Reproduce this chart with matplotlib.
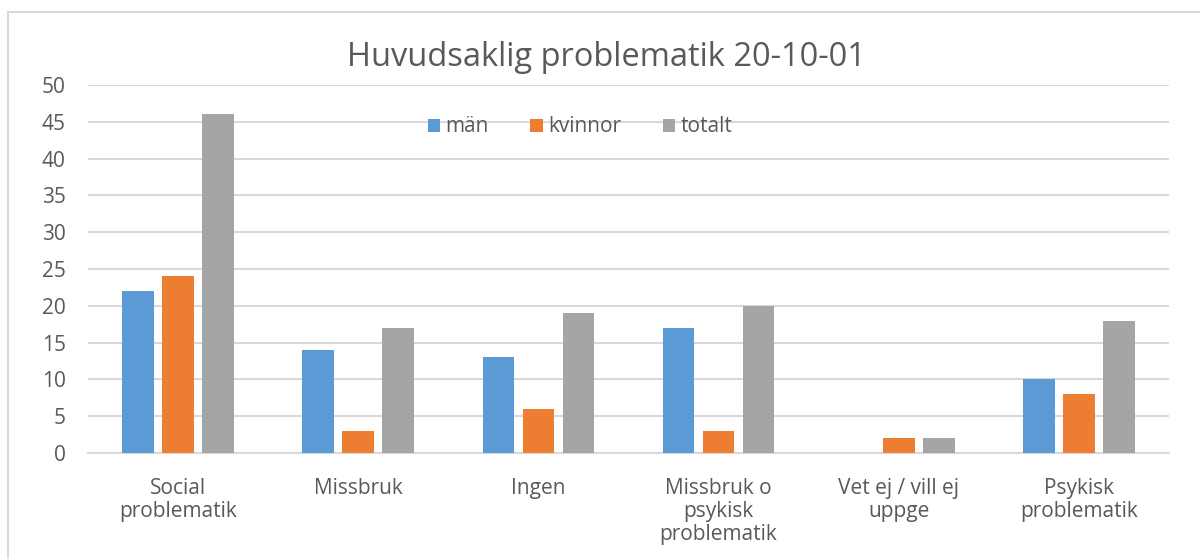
import numpy as np
import matplotlib.pyplot as plt
from matplotlib.patches import Rectangle

categories = ['Social\nproblematik', 'Missbruk', 'Ingen', 'Missbruk o\npsykisk\nproblematik',
              'Vet ej / vill ej\nuppge', 'Psykisk\nproblematik']
man = [22, 14, 13, 17, 0, 10]
kvinnor = [24, 3, 6, 3, 2, 8]
totalt = [46, 17, 19, 20, 2, 18]

series = [('män', man, '#5B9BD5'), ('kvinnor', kvinnor, '#ED7D31'), ('totalt', totalt, '#A5A5A5')]

plt.rcParams['font.family'] = ['Open Sans', 'DejaVu Sans']
text_color = '#595959'
grid_color = '#D9D9D9'

fig = plt.figure(figsize=(12, 5.59), dpi=100)
W, H = 1200, 559
# plot area in pixels: left 88, right 1169, top 85, bottom 453
ax = fig.add_axes([88 / W, 1 - 453 / H, (1169 - 88) / W, (453 - 85) / H])

# chart border (only left and top visible in the crop)
fig.patches.append(Rectangle((8 / W, -0.1), 1.2, 1 - 12 / H + 0.1, transform=fig.transFigure,
                             fill=False, edgecolor=grid_color, linewidth=1.5))

x = np.arange(len(categories))
width = 0.175
step = 0.222
for i, (name, vals, color) in enumerate(series):
    ax.bar(x + (i - 1) * step, vals, width, color=color, label=name, zorder=3)

ax.set_xlim(-0.5, len(categories) - 0.5)
ax.set_ylim(0, 50)
ax.set_yticks(np.arange(0, 51, 5))
ax.yaxis.grid(True, color=grid_color, linewidth=1.5, zorder=0)
for s in ['top', 'right', 'left']:
    ax.spines[s].set_visible(False)
ax.spines['bottom'].set_color(grid_color)
ax.spines['bottom'].set_linewidth(1.5)
ax.tick_params(axis='both', length=0, labelsize=15, colors=text_color)
ax.tick_params(axis='y', pad=16)
ax.tick_params(axis='x', pad=18)
ax.set_xticks(x)
ax.set_xticklabels(categories, linespacing=1.12)

fig.text(606 / W, 1 - 57 / H, 'Huvudsaklig problematik 20-10-01', ha='center', va='center',
         fontsize=23.5, color=text_color)

leg = fig.legend(loc='center', bbox_to_anchor=(580 / W, 1 - 127 / H), ncol=3, frameon=False,
                 fontsize=15, handlelength=0.6, handleheight=0.6, handletextpad=0.25,
                 columnspacing=2.0, labelcolor=text_color)

fig.savefig('out.png', dpi=100)
